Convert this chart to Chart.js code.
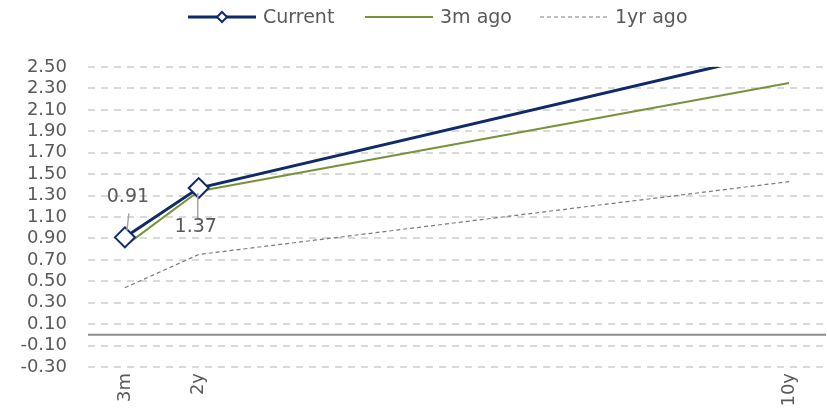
<!DOCTYPE html>
<html>
<head>
<meta charset="utf-8">
<script src="https://cdn.jsdelivr.net/npm/chart.js@4/dist/chart.umd.min.js"></script>
<style>
  html, body { margin: 0; padding: 0; background: #fff; overflow: hidden; width: 827px; height: 415px; }
  /* canvas is a little wider than the window so the plot reaches the right edge */
  #wrap { width: 838px; height: 415px; position: relative; }
</style>
</head>
<body>
<div id="wrap"><canvas id="curve"></canvas></div>
<script>
// tenors (only 3m, 2y, 10y are labelled / have data)
var tenors   = ["3m", "2y", "3y", "4y", "5y", "6y", "7y", "8y", "9y", "10y"];
var shownTenors = ["3m", "2y", "10y"];
var current  = [0.91, 1.37, null, null, null, null, null, null, null, 2.66];
var threeM   = [0.83, 1.34, null, null, null, null, null, null, null, 2.35];
var oneYr    = [0.44, 0.75, null, null, null, null, null, null, null, 1.43];
var yTicks   = { min: -0.30, max: 2.50, step: 0.20 };
var seriesNames = ["Current", "3m ago", "1yr ago"];
// data labels on the Current series: [index, dx, dy]
var labelled = [[0, 3, -40], [1, -3, 39]];

var FONT = "'DejaVu Sans', sans-serif";
var TXT = "#595959";
var colors = { current: "#0e2a6a", threeM: "#77933c", oneYr: "#7a7a7a" };

// custom legend: line + optional diamond marker, then text
var legendPlugin = {
  id: "topLegend",
  afterDraw: function(chart) {
    var ctx = chart.ctx;
    var items = [
      { x: 188, color: colors.current, width: 3, dash: [], marker: true },
      { x: 365, color: colors.threeM, width: 2, dash: [], marker: false },
      { x: 540, color: colors.oneYr, width: 1.2, dash: [4, 3], marker: false }
    ];
    var y = 17;
    ctx.save();
    items.forEach(function(it, i) {
      ctx.beginPath();
      ctx.setLineDash(it.dash);
      ctx.strokeStyle = it.color;
      ctx.lineWidth = it.width;
      ctx.moveTo(it.x, y);
      ctx.lineTo(it.x + 68, y);
      ctx.stroke();
      ctx.setLineDash([]);
      if (it.marker) {
        var cx = it.x + 34, r = 5;
        ctx.beginPath();
        ctx.moveTo(cx, y - r); ctx.lineTo(cx + r, y); ctx.lineTo(cx, y + r); ctx.lineTo(cx - r, y);
        ctx.closePath();
        ctx.fillStyle = "#fff"; ctx.fill();
        ctx.lineWidth = 2; ctx.strokeStyle = it.color; ctx.stroke();
      }
      ctx.fillStyle = TXT;
      ctx.font = "19px " + FONT;
      ctx.textBaseline = "middle";
      ctx.textAlign = "left";
      ctx.fillText(seriesNames[i], it.x + 75, y + 1);
    });
    ctx.restore();
  }
};

// zero line + data labels with leader lines
var extrasPlugin = {
  id: "extras",
  beforeDatasetsDraw: function(chart) {
    var ctx = chart.ctx, area = chart.chartArea;
    var y0 = chart.scales.y.getPixelForValue(0);
    ctx.save();
    ctx.beginPath();
    ctx.strokeStyle = "#8c8c8c";
    ctx.lineWidth = 2;
    ctx.moveTo(area.left, y0);
    ctx.lineTo(area.right, y0);
    ctx.stroke();
    ctx.restore();
  },
  afterDatasetsDraw: function(chart) {
    var ctx = chart.ctx;
    var meta = chart.getDatasetMeta(0);
    ctx.save();
    labelled.forEach(function(l) {
      var pt = meta.data[l[0]];
      var tx = pt.x + l[1], ty = pt.y + l[2];
      ctx.beginPath();
      ctx.strokeStyle = "#a6a6a6";
      ctx.lineWidth = 1.5;
      if (l[2] < 0) { ctx.moveTo(tx + 1, ty + 16); ctx.lineTo(pt.x + 2, pt.y - 7); }
      else { ctx.moveTo(tx + 2, ty - 9); ctx.lineTo(pt.x - 1, pt.y + 5); }
      ctx.stroke();
      ctx.fillStyle = TXT;
      ctx.font = "19px " + FONT;
      ctx.textAlign = "center";
      ctx.textBaseline = "middle";
      ctx.fillText(current[l[0]].toFixed(2), tx, ty);
    });
    ctx.restore();
  }
};

new Chart(document.getElementById("curve"), {
  type: "line",
  data: {
    labels: tenors,
    datasets: [
      {
        label: seriesNames[0], data: current, borderColor: colors.current, borderWidth: 3,
        pointStyle: "rectRot", pointRadius: 10, pointBorderWidth: 2,
        pointBackgroundColor: "#fff", pointBorderColor: colors.current,
        spanGaps: true, tension: 0, order: 0
      },
      {
        label: seriesNames[1], data: threeM, borderColor: colors.threeM, borderWidth: 2,
        pointRadius: 0, spanGaps: true, tension: 0, order: 1
      },
      {
        label: seriesNames[2], data: oneYr, borderColor: colors.oneYr, borderWidth: 1.2,
        borderDash: [4, 3], pointRadius: 0, spanGaps: true, tension: 0, order: 2
      }
    ]
  },
  options: {
    responsive: true,
    maintainAspectRatio: false,
    animation: false,
    layout: { padding: { top: 67, right: 0, bottom: 0, left: 0 } },
    plugins: { legend: { display: false }, tooltip: { enabled: false } },
    scales: {
      x: {
        offset: true,
        grid: { display: false, drawTicks: false },
        border: { display: false },
        afterFit: function(s) { s.height = 48; },
        ticks: {
          autoSkip: false, minRotation: 90, maxRotation: 90, padding: 6,
          color: TXT, font: { family: FONT, size: 18 },
          callback: function(v, i) {
            var t = tenors[i];
            return shownTenors.indexOf(t) >= 0 ? t : "";
          }
        }
      },
      y: {
        min: yTicks.min, max: yTicks.max,
        afterFit: function(s) { s.width = 88; },
        grid: { color: "#d9d9d9", lineWidth: 2, drawTicks: false },
        border: { display: false, dash: [7, 6] },
        ticks: {
          stepSize: yTicks.step, padding: 21, autoSkip: false,
          color: TXT, font: { family: FONT, size: 18 },
          callback: function(v) { return v.toFixed(2); }
        }
      }
    }
  },
  plugins: [legendPlugin, extrasPlugin]
});
</script>
</body>
</html>
